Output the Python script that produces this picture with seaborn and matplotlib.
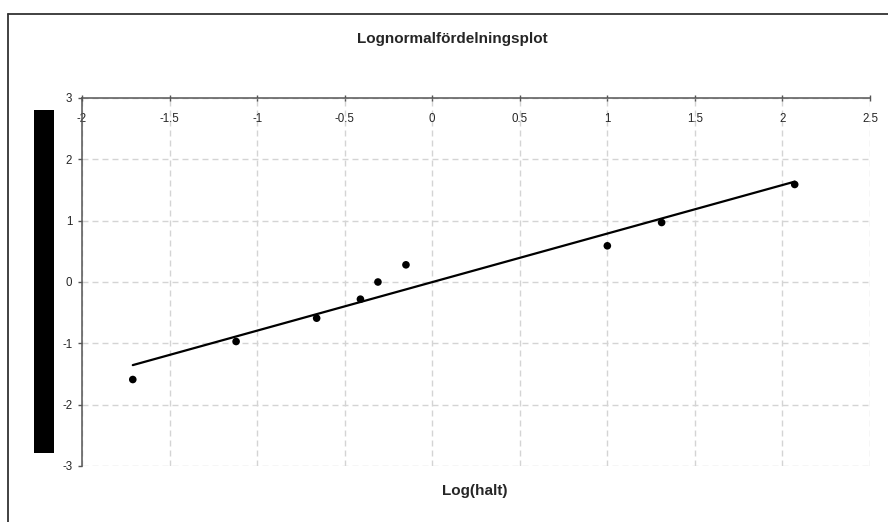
import matplotlib
matplotlib.use("Agg")
import matplotlib.pyplot as plt
from matplotlib.patches import Rectangle
from matplotlib.lines import Line2D
import seaborn as sns
import pandas as pd
import numpy as np

# data
log_halt = [-1.71, -1.12, -0.66, -0.41, -0.31, -0.15, 1.00, 1.31, 2.07]
z_score = [-1.59, -0.97, -0.59, -0.28, 0.00, 0.28, 0.59, 0.97, 1.59]
x_ticks = [-2, -1.5, -1, -0.5, 0, 0.5, 1, 1.5, 2, 2.5]
x_tick_labels = ["-2", "-1.5", "-1", "-0.5", "0", "0.5", "1", "1.5", "2", "2.5"]
y_ticks = [-3, -2, -1, 0, 1, 2, 3]
y_tick_labels = ["-3", "-2", "-1", "0", "1", "2", "3"]
title = "Lognormalfördelningsplot"
xlabel = "Log(halt)"

sns.set_style("white")
plt.rcParams["font.family"] = ["Liberation Sans", "DejaVu Sans"]

W, H = 888, 522
fig = plt.figure(figsize=(W / 100, H / 100), dpi=100)
ax = fig.add_axes([82 / W, 1 - 466 / H, (870 - 82) / W, (466 - 98) / H])

df = pd.DataFrame({"x": log_halt, "y": z_score})
sns.regplot(data=df, x="x", y="y", ax=ax, ci=None, truncate=True,
            scatter_kws=dict(s=30, color="black", edgecolor="none", alpha=1, zorder=4),
            line_kws=dict(color="black", lw=1.6, zorder=3))

ax.set_xlim(-2, 2.5)
ax.set_ylim(-3, 3)
ax.set_xticks(x_ticks)
ax.set_xticklabels(x_tick_labels)
ax.set_yticks(y_ticks)
ax.set_yticklabels(y_tick_labels)
ax.set_xlabel("")
ax.set_ylabel("")

ax.grid(True, color="#d4d4d4", linestyle=(0, (4.3, 2.9)), linewidth=1.0)
ax.set_axisbelow(True)

for s in ["right", "top"]:
    ax.spines[s].set_visible(False)
ax.spines["bottom"].set_position(("data", 3))
for s in ["left", "bottom"]:
    ax.spines[s].set_color("#555555")
    ax.spines[s].set_linewidth(1.1)
    ax.spines[s].set_zorder(5)

ax.tick_params(axis="x", direction="inout", length=4.5, width=1, color="#555555",
               labelsize=8.3, pad=8.5, bottom=True)
ax.tick_params(axis="y", direction="out", length=3, width=1, color="#555555",
               labelsize=8.3, pad=4, left=True)

fig.text(452 / W, 1 - 39 / H, title, ha="center", va="center",
         fontsize=11, fontweight="bold")
fig.text(475 / W, 1 - 491 / H, xlabel, ha="center", va="center",
         fontsize=11, fontweight="bold")

# outer chart frame (cut off at right and bottom)
fig.add_artist(Line2D([8 / W, 8 / W], [0, 1 - 14 / H], color="#333333", lw=1.3,
                      transform=fig.transFigure))
fig.add_artist(Line2D([8 / W, 1], [1 - 14 / H, 1 - 14 / H], color="#333333", lw=1.3,
                      transform=fig.transFigure))
# black block on the left
fig.add_artist(Rectangle((34 / W, 1 - 453 / H), 20 / W, 343 / H,
                         facecolor="black", edgecolor="none", transform=fig.transFigure))

fig.savefig("out.png", dpi=100)
